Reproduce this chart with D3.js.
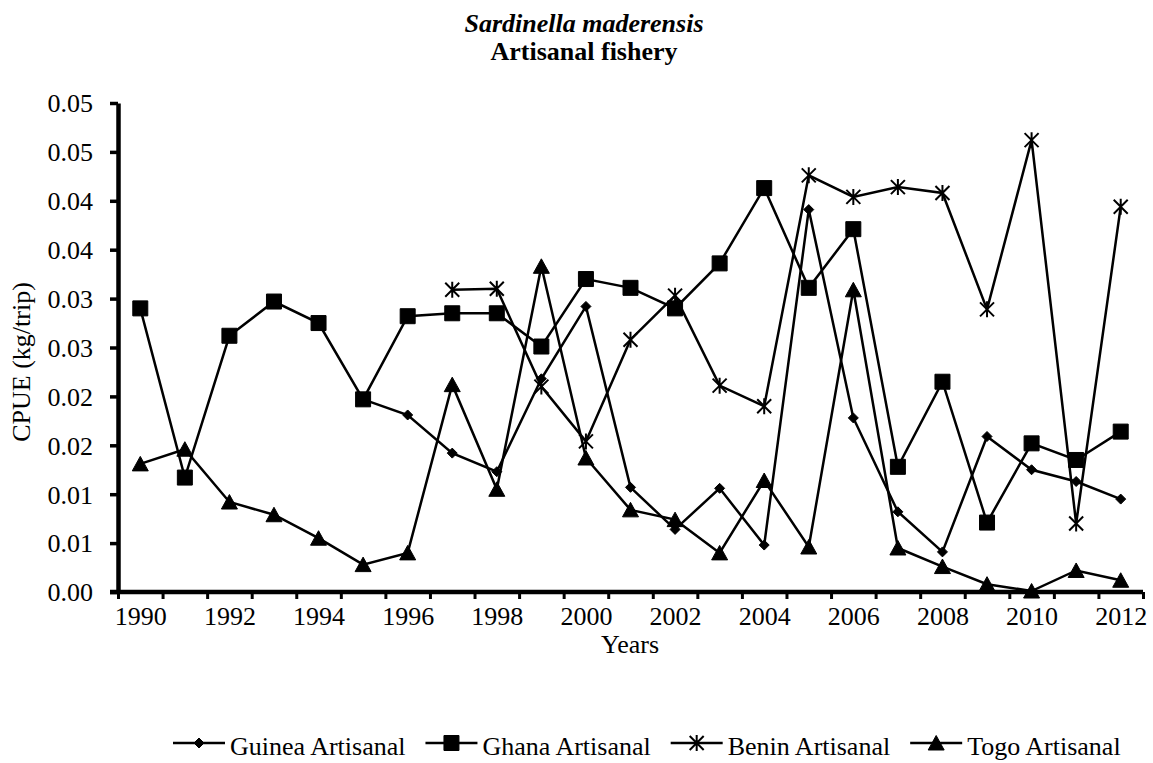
<!DOCTYPE html>
<html>
<head>
<meta charset="utf-8">
<script src="https://cdn.jsdelivr.net/npm/d3@7"></script>
<style>
  body { margin: 0; background: #fff; }
  svg text { font-family: "Liberation Serif", "Times New Roman", serif; fill: #000; }
</style>
</head>
<body>
<div id="chart"></div>
<script>
// Chart data
const years = [1990, 1991, 1992, 1993, 1994, 1995, 1996, 1997, 1998, 1999, 2000, 2001,
               2002, 2003, 2004, 2005, 2006, 2007, 2008, 2009, 2010, 2011, 2012];
const yearLabels = [1990, 1992, 1994, 1996, 1998, 2000, 2002, 2004, 2006, 2008, 2010, 2012];

const guinea = [null, null, null, null, null, 0.0197, 0.0181, 0.0142, 0.0123, 0.0218, 0.0292, 0.0107,
                0.0064, 0.0106, 0.0048, 0.0391, 0.0178, 0.0082, 0.0041, 0.0159, 0.0125, 0.0113, 0.0095];
const ghana = [0.0290, 0.0117, 0.0262, 0.0297, 0.0275, 0.0197, 0.0282, 0.0285, 0.0285, 0.0251, 0.0320, 0.0311,
               0.0290, 0.0336, 0.0413, 0.0311, 0.0371, 0.0128, 0.0215, 0.0071, 0.0152, 0.0135, 0.0164];
const benin = [null, null, null, null, null, null, null, 0.0309, 0.0310, 0.0210, 0.0154, 0.0258,
               0.0303, 0.0211, 0.0190, 0.0426, 0.0404, 0.0414, 0.0408, 0.0289, 0.0462, 0.0070, 0.0394];
const togo = [0.0131, 0.0146, 0.0092, 0.0079, 0.0055, 0.0028, 0.0040, 0.0212, 0.0105, 0.0333, 0.0137, 0.0084,
              0.0074, 0.0040, 0.0114, 0.0046, 0.0309, 0.0045, 0.0026, 0.0008, 0.0001, 0.0022, 0.0012];

const seriesNames = ["Guinea Artisanal", "Ghana Artisanal", "Benin Artisanal", "Togo Artisanal"];
const seriesMarkers = ["diamond", "square", "star", "triangle"];

const yTickValues = [0, 0.005, 0.01, 0.015, 0.02, 0.025, 0.03, 0.035, 0.04, 0.045, 0.05];
const yTickLabels = ["0.00", "0.01", "0.01", "0.02", "0.02", "0.03", "0.03", "0.04", "0.04", "0.05", "0.05"];

// Dimensions
const width = 1153;
const height = 763;
const plot = { left: 118, right: 1143, top: 103, bottom: 592 };

const svg = d3.create("svg")
    .attr("width", width)
    .attr("height", height)
    .attr("viewBox", [0, 0, width, height]);

// attach early so text can be measured for the legend
document.getElementById("chart").appendChild(svg.node());

// Scales: categories sit in the middle of one-year bands
const x = d3.scaleLinear()
    .domain([years[0] - 0.5, years[years.length - 1] + 0.5])
    .range([plot.left, plot.right]);

const y = d3.scaleLinear()
    .domain([0, 0.05])
    .range([plot.bottom, plot.top]);

// Titles
svg.append("text")
    .attr("x", 584).attr("y", 32)
    .attr("text-anchor", "middle")
    .attr("font-size", 26).attr("font-weight", "bold").attr("font-style", "italic")
    .text("Sardinella maderensis");

svg.append("text")
    .attr("x", 584).attr("y", 60)
    .attr("text-anchor", "middle")
    .attr("font-size", 26).attr("font-weight", "bold")
    .text("Artisanal fishery");

// Y axis
const yAxis = svg.append("g")
    .attr("transform", `translate(${plot.left},0)`)
    .call(d3.axisLeft(y)
        .tickValues(yTickValues)
        .tickFormat((d, i) => yTickLabels[i])
        .tickSize(8)
        .tickSizeOuter(0)
        .tickPadding(17));
yAxis.select(".domain").attr("stroke", "#000").attr("stroke-width", 4.5);
yAxis.selectAll(".tick line").attr("stroke", "#000").attr("stroke-width", 3.5);
yAxis.selectAll(".tick text")
    .attr("font-size", 26).attr("font-family", "Liberation Serif").attr("dy", "0.34em");

// X axis: tick marks between categories, labels under every other year
const boundaries = years.map(d => d - 0.5).concat(years[years.length - 1] + 0.5);
const xTicks = svg.append("g")
    .attr("transform", `translate(0,${plot.bottom})`)
    .call(d3.axisBottom(x)
        .tickValues(boundaries)
        .tickFormat("")
        .tickSize(7)
        .tickSizeOuter(0));
xTicks.select(".domain").attr("stroke", "#000").attr("stroke-width", 4.5)
    .attr("d", `M${plot.left - 8},0H${plot.right}`);
xTicks.selectAll(".tick line").attr("stroke", "#000").attr("stroke-width", 3);

const xLabels = svg.append("g")
    .attr("transform", `translate(0,${plot.bottom})`)
    .call(d3.axisBottom(x)
        .tickValues(yearLabels)
        .tickFormat(d3.format("d"))
        .tickSize(0)
        .tickSizeOuter(0));
xLabels.select(".domain").remove();
xLabels.selectAll(".tick text")
    .attr("font-size", 26).attr("font-family", "Liberation Serif")
    .attr("y", 33).attr("dy", 0);

// Axis titles
svg.append("text")
    .attr("x", 630).attr("y", 653)
    .attr("text-anchor", "middle")
    .attr("font-size", 26)
    .text("Years");

svg.append("text")
    .attr("transform", `translate(30,362) rotate(-90)`)
    .attr("text-anchor", "middle")
    .attr("font-size", 26)
    .text("CPUE (kg/trip)");

// Marker shapes, drawn around a centre point
function markerPath(type, cx, cy) {
    const p = d3.path();
    if (type === "square") {
        p.rect(cx - 7.5, cy - 7.5, 15, 15);
    } else if (type === "diamond") {
        p.moveTo(cx, cy - 5); p.lineTo(cx + 5, cy); p.lineTo(cx, cy + 5); p.lineTo(cx - 5, cy); p.closePath();
    } else if (type === "triangle") {
        p.moveTo(cx, cy - 7.5); p.lineTo(cx + 8, cy + 7); p.lineTo(cx - 8, cy + 7); p.closePath();
    } else if (type === "star") {
        p.moveTo(cx - 7, cy - 7); p.lineTo(cx + 7, cy + 7);
        p.moveTo(cx + 7, cy - 7); p.lineTo(cx - 7, cy + 7);
        p.moveTo(cx, cy - 8); p.lineTo(cx, cy + 8);
    }
    return p.toString();
}

function drawMarker(g, type, cx, cy) {
    const filled = type !== "star";
    g.append("path")
        .attr("d", markerPath(type, cx, cy))
        .attr("fill", filled ? "#000" : "none")
        .attr("stroke", "#000")
        .attr("stroke-width", filled ? 1 : 2);
}

const line = d3.line()
    .defined(d => d.v != null)
    .x(d => x(d.year))
    .y(d => y(d.v));

const allSeries = [guinea, ghana, benin, togo];

allSeries.forEach((values, si) => {
    const pts = years.map((year, i) => ({ year, v: values[i] }));
    const g = svg.append("g");
    g.append("path")
        .datum(pts)
        .attr("d", line)
        .attr("fill", "none")
        .attr("stroke", "#000")
        .attr("stroke-width", 2.5)
        .attr("stroke-linejoin", "miter");
    pts.filter(d => d.v != null).forEach(d => drawMarker(g, seriesMarkers[si], x(d.year), y(d.v)));
});

// Legend
const legend = svg.append("g");
let lx = 173;
seriesNames.forEach((name, i) => {
    const item = legend.append("g");
    item.append("line")
        .attr("x1", lx).attr("x2", lx + 52)
        .attr("y1", 743).attr("y2", 743)
        .attr("stroke", "#000").attr("stroke-width", 2.5);
    drawMarker(item, seriesMarkers[i], lx + 26, 743);
    const t = item.append("text")
        .attr("x", lx + 57).attr("y", 755)
        .attr("font-size", 26)
        .text(name);
    lx += 57 + t.node().getComputedTextLength() + 20;
});
</script>
</body>
</html>
